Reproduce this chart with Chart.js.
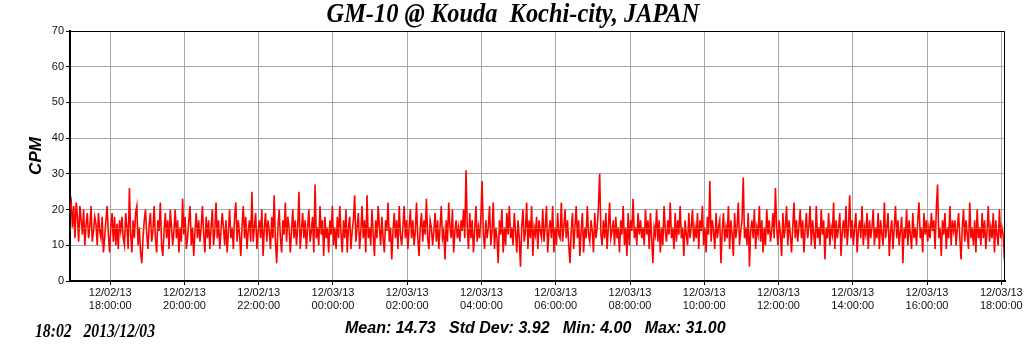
<!DOCTYPE html>
<html>
<head>
<meta charset="utf-8">
<script src="https://cdn.jsdelivr.net/npm/chart.js@4.4.1/dist/chart.umd.min.js"></script>
<style>
  body { margin: 0; background: #fff; }
  canvas { display: block; }
</style>
</head>
<body>
<canvas id="myChart" width="1024" height="351"></canvas>
<script>
// minutes relative to 12/02/13 18:00:00, one reading every 2 minutes
const startMinute = -65;
const stepMinutes = 2;
const axisMin = -65;
const axisMax = 1446;

const cpmValues = [
  20,22,15,21,12,22,18,11,21,17,13,20,10,16,19,12,15,21,11,14,18,
  16,10,19,14,12,18,8,12,17,21,13,8,15,19,11,18,10,16,9,17,14,
  18,12,10,19,15,9,26,13,8,17,12,19,21,10,15,8,5,12,17,20,13,
  9,16,19,11,14,21,12,8,17,14,22,10,7,14,19,12,17,9,20,15,10,
  14,20,12,17,8,15,11,23,13,18,9,12,17,21,10,15,7,14,19,12,17,
  11,15,21,13,8,18,12,17,9,15,20,10,14,22,12,17,9,14,19,15,10,
  17,8,14,20,12,15,9,18,22,11,17,13,7,15,21,12,18,9,14,17,11,
  25,11,15,19,9,14,17,12,20,7,15,19,11,17,14,9,18,12,24,11,5,
  15,20,12,8,17,13,22,11,18,15,8,14,20,12,17,10,15,25,9,14,19,
  12,17,9,15,20,11,14,18,8,27,12,15,10,21,13,17,7,18,12,15,8,
  17,13,21,10,15,9,18,12,21,13,8,17,12,20,8,15,18,9,14,17,24,
  11,15,19,9,14,21,12,17,8,24,12,15,10,20,13,7,17,12,21,15,10,
  18,12,8,17,14,22,11,15,6,14,19,12,17,9,21,13,10,15,21,12,17,
  9,15,20,12,17,10,14,22,12,7,15,19,11,17,13,23,12,9,17,15,10,
  14,19,11,17,9,15,21,12,14,6,17,11,22,15,12,20,8,14,17,12,15,
  11,17,14,20,12,31,15,9,19,12,17,8,14,21,11,15,12,18,28,13,9,
  17,12,15,21,10,14,22,9,15,12,5,17,13,20,8,15,10,19,13,21,12,
  15,10,19,14,8,17,12,4,15,20,11,14,22,9,17,12,21,7,15,13,18,
  9,17,14,12,20,11,15,21,8,14,17,12,21,8,15,10,19,13,12,22,11,
  15,20,12,17,10,5,14,19,9,15,21,12,17,7,14,19,8,15,12,21,13,
  11,17,14,8,19,12,15,21,30,13,10,17,12,19,9,15,22,12,14,17,10,
  18,12,15,8,17,13,21,10,15,7,19,10,17,14,23,12,15,10,19,13,17,
  12,15,10,20,13,17,9,19,12,5,15,13,20,11,17,8,15,10,21,14,11,
  17,13,22,12,15,9,19,11,17,13,21,12,15,7,17,13,10,19,12,15,20,
  11,15,12,19,9,17,14,21,10,15,8,18,13,28,11,17,14,9,19,12,15,
  17,5,14,19,11,15,12,21,9,17,13,7,19,12,15,22,10,14,17,29,12,
  15,10,19,4,14,17,12,20,9,15,13,21,11,17,8,15,10,20,13,17,11,
  14,19,12,26,15,10,17,13,7,19,12,15,21,10,17,13,8,15,22,12,17,
  11,15,20,12,17,8,14,19,12,15,21,10,17,13,9,21,12,15,10,20,13,
  17,6,15,12,19,10,15,13,22,9,17,12,15,19,7,14,17,12,21,10,15,
  24,12,17,10,15,19,8,14,17,12,21,10,15,13,19,9,17,12,15,20,10,
  15,12,19,9,17,13,10,22,12,15,19,7,14,17,9,15,21,12,17,10,14,
  18,5,15,12,20,10,17,13,9,19,12,15,10,17,22,12,15,8,19,13,17,
  11,15,12,19,14,17,9,20,27,12,15,7,17,13,19,9,15,12,21,10,17,
  14,17,10,15,19,12,6,15,20,11,17,13,9,22,12,15,10,17,8,20,12,
  15,10,19,12,17,9,14,21,11,15,12,19,8,17,13,10,20,12,15,13,6
];

const meanValue = 14.73;
const stdDev = 3.92;
const minValue = 4.00;
const maxValue = 31.00;

const tickDates = ["12/02/13","12/02/13","12/02/13","12/03/13","12/03/13","12/03/13","12/03/13",
                   "12/03/13","12/03/13","12/03/13","12/03/13","12/03/13","12/03/13"];
const tickTimes = ["18:00:00","20:00:00","22:00:00","00:00:00","02:00:00","04:00:00","06:00:00",
                   "08:00:00","10:00:00","12:00:00","14:00:00","16:00:00","18:00:00"];

const titleText = "GM-10 @ Kouda  Kochi-city, JAPAN";
const stampText = "18:02   2013/12/03";

const points = cpmValues.map((v, i) => ({ x: startMinute + i * stepMinutes, y: v }));
const meanLine = [{ x: axisMin, y: meanValue }, { x: axisMax, y: meanValue }];

const textPlugin = {
  id: "texts",
  afterDraw(chart) {
    const { ctx, chartArea } = chart;
    ctx.save();
    // top and right frame
    ctx.strokeStyle = "#000";
    ctx.lineWidth = 1;
    ctx.beginPath();
    ctx.moveTo(chartArea.left, chartArea.top + 0.5);
    ctx.lineTo(chartArea.right - 0.5, chartArea.top + 0.5);
    ctx.lineTo(chartArea.right - 0.5, chartArea.bottom);
    ctx.stroke();

    ctx.fillStyle = "#000";
    ctx.textBaseline = "alphabetic";
    ctx.textAlign = "center";
    ctx.font = "italic bold 27px 'Liberation Serif'";
    ctx.fillText(titleText, 513, 22, 373);

    ctx.textAlign = "left";
    ctx.font = "italic bold 19px 'Liberation Serif'";
    ctx.fillText(stampText, 35, 337, 120);

    ctx.font = "italic bold 16px 'Liberation Sans'";
    const stats = "Mean: " + meanValue.toFixed(2) + "   Std Dev: " + stdDev.toFixed(2) +
      "   Min: " + minValue.toFixed(2) + "   Max: " + maxValue.toFixed(2);
    ctx.fillText(stats, 345, 333, 385);
    ctx.restore();
  }
};

const ctx = document.getElementById("myChart");
const myChart = new Chart(ctx, {
  type: "line",
  data: {
    datasets: [
      {
        data: meanLine,
        borderColor: "rgba(176,140,40,0.85)",
        borderWidth: 1,
        pointRadius: 0,
        order: 0
      },
      {
        data: points,
        borderColor: "#ff0000",
        borderWidth: 1.6,
        pointRadius: 0,
        tension: 0,
        order: 1
      }
    ]
  },
  options: {
    responsive: false,
    animation: false,
    layout: { padding: { top: 31, right: 19, bottom: 0, left: 0 } },
    plugins: {
      legend: { display: false },
      tooltip: { enabled: false }
    },
    scales: {
      x: {
        type: "linear",
        min: axisMin,
        max: axisMax,
        afterFit(scale) {
          scale.height = 70;
          scale.paddingLeft = 0;
          scale.paddingRight = 0;
        },
        border: { display: true, color: "#000", width: 2 },
        grid: { color: "#a8a8a8", lineWidth: 1, drawTicks: true, tickLength: 4, tickColor: "#000" },
        ticks: {
          stepSize: 120,
          includeBounds: false,
          autoSkip: false,
          maxRotation: 0,
          padding: 1,
          color: "#111",
          font: { family: "'Liberation Sans'", size: 11 },
          callback: (value) => {
            const i = Math.round(value / 120);
            return [tickDates[i], tickTimes[i]];
          }
        }
      },
      y: {
        min: 0,
        max: 70,
        afterFit(scale) {
          scale.width = 70;
          scale.paddingTop = 0;
          scale.paddingBottom = 0;
        },
        border: { display: true, color: "#000", width: 2 },
        grid: { color: "#a8a8a8", lineWidth: 1, drawTicks: true, tickLength: 4, tickColor: "#000" },
        title: {
          display: true,
          text: "CPM",
          color: "#000",
          padding: { top: 26, bottom: 0 },
          font: { family: "'Liberation Sans'", size: 17, style: "italic", weight: "bold" }
        },
        ticks: {
          stepSize: 10,
          padding: 2,
          color: "#111",
          font: { family: "'Liberation Sans'", size: 11 }
        }
      }
    }
  },
  plugins: [textPlugin]
});
</script>
</body>
</html>
